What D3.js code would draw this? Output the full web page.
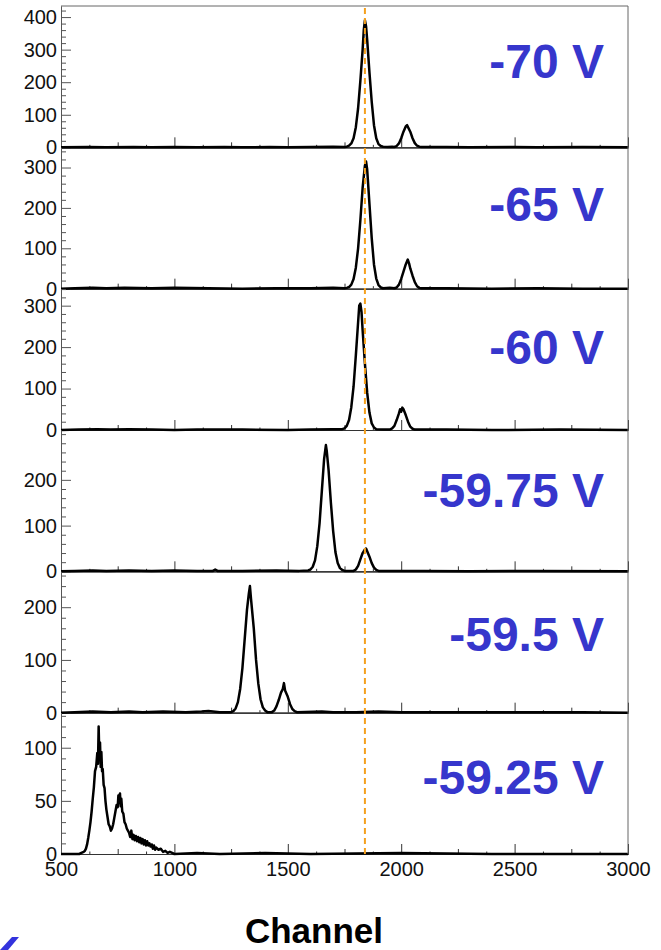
<!DOCTYPE html>
<html>
<head>
<meta charset="utf-8">
<script src="https://cdn.jsdelivr.net/npm/d3@7"></script>
<style>
  body { margin: 0; background: #fff; }
  text { font-family: "Liberation Sans", Arial, sans-serif; }
</style>
</head>
<body>
<svg id="chart" width="661" height="950"></svg>
<script>
// channel / counts (background is ~0 elsewhere)
var spec70 = [[500,0],[620,1],[700,0],[820,1],[900,0],[1000,1],[1100,0],[1220,1],[1300,0],[1420,1],[1500,0],[1600,1],[1700,2],[1750,1],
  [1760,2],[1770,5],[1780,12],[1790,28],[1800,62],[1810,120],[1820,205],[1830,300],[1835,360],[1840,390],[1845,372],[1850,330],
  [1860,230],[1870,140],[1880,68],[1890,28],[1900,10],[1910,4],[1920,2],[1940,1],[1960,2],
  [1970,1],[1980,4],[1990,12],[2000,28],[2010,48],[2020,64],[2026,68],[2030,62],[2040,48],[2050,28],[2060,13],[2070,5],[2080,2],
  [2090,1],[2200,1],[2300,0],[2500,1],[2600,0],[2800,1],[3000,0]];
var spec65 = [[500,0],[560,1],[640,2],[700,1],[780,2],[900,1],[1000,2],[1150,1],[1300,0],[1450,1],[1600,1],[1700,2],[1750,1],
  [1760,2],[1770,4],[1780,10],[1790,24],[1800,52],[1810,100],[1820,170],[1830,250],[1840,305],[1845,315],[1850,295],
  [1860,210],[1870,125],[1880,60],[1890,25],[1900,9],[1910,3],[1920,1],[1950,2],
  [1970,1],[1980,3],[1990,10],[2000,24],[2010,42],[2020,60],[2029,72],[2035,62],[2040,50],[2050,32],[2060,16],[2070,6],[2080,2],
  [2090,1],[2200,1],[2400,0],[2600,1],[2800,0],[3000,0]];
var spec60 = [[500,0],[580,1],[660,2],[720,1],[800,2],[900,1],[1000,0],[1100,1],[1300,1],[1500,0],[1600,1],[1700,2],
  [1740,2],[1750,4],[1760,10],[1770,24],[1780,55],[1790,105],[1800,180],[1810,260],[1815,300],[1820,305],[1825,285],[1830,240],
  [1840,160],[1850,90],[1860,42],[1870,16],[1880,6],[1890,2],[1920,1],
  [1950,1],[1960,4],[1970,10],[1980,24],[1990,40],[1995,50],[2000,44],[2005,54],[2010,50],[2020,36],[2030,20],[2040,8],[2050,3],
  [2060,1],[2200,1],[2400,0],[2700,1],[3000,0]];
var spec5975 = [[500,0],[560,1],[640,2],[700,1],[800,2],[900,1],[1000,2],[1100,1],[1170,1],[1180,4],[1190,1],[1300,1],[1450,2],[1550,1],
  [1590,2],[1600,4],[1610,10],[1620,24],[1630,55],[1640,105],[1650,175],[1660,245],[1668,276],[1672,262],[1680,220],[1690,150],
  [1700,88],[1710,42],[1720,18],[1730,7],[1740,3],[1750,1],
  [1790,1],[1800,4],[1810,12],[1820,26],[1830,40],[1840,48],[1845,50],[1850,44],[1860,32],[1870,18],[1880,8],[1890,3],[1900,1],
  [2100,1],[2300,0],[2600,1],[3000,0]];
var spec595 = [[500,0],[560,1],[640,2],[720,1],[800,2],[860,1],[950,2],[1050,1],[1120,2],[1150,3],[1200,1],
  [1250,1],[1260,3],[1270,8],[1280,20],[1290,45],[1300,85],[1310,140],[1320,195],[1328,225],[1333,240],[1338,215],[1350,160],
  [1360,100],[1370,55],[1380,25],[1390,10],[1400,4],[1410,1],
  [1430,1],[1440,4],[1450,12],[1460,24],[1470,38],[1478,45],[1483,56],[1488,42],[1500,30],[1510,16],[1520,7],[1530,3],[1540,1],
  [1650,2],[1700,1],[1800,1],[1900,2],[2000,1],[2200,1],[2500,1],[2800,1],[3000,0]];
var spec5925 = [[500,0],[580,0],[590,1],[600,2],[605,3],[610,5],[615,9],[620,15],[625,22],[630,30],[635,40],[640,52],[645,63],
  [650,78],[655,82],[660,95],[663,85],[666,120],[669,92],[672,105],[675,82],[678,96],[681,78],[684,80],[688,65],[692,62],
  [696,50],[700,42],[705,35],[710,28],[715,26],[720,22],[725,24],[730,28],[735,34],[740,40],[745,46],[750,44],[753,55],
  [756,48],[760,57],[763,45],[766,52],[770,40],[775,38],[780,30],[785,28],[790,24],[795,22],
  [800,20],[805,16],[810,22],[815,14],[820,18],[825,13],[830,17],[835,12],[840,16],[845,11],[850,15],[855,10],[860,14],
  [865,9],[870,13],[875,8],[880,12],[885,8],[890,10],[895,7],[900,9],[905,5],[910,8],[915,4],[920,6],[930,4],[940,5],
  [950,2],[960,3],[970,1],[980,2],[990,1],[1000,0],[1100,1],[1200,0],[1400,1],[1600,0],[2000,1],[2400,0],[3000,0]];

var voltages = ["-70 V", "-65 V", "-60 V", "-59.75 V", "-59.5 V", "-59.25 V"];
var spectra = [spec70, spec65, spec60, spec5975, spec595, spec5925];
var yMaxes = [434, 350, 341, 309, 268, 133];
var yMajor = [[0,100,200,300,400], [0,100,200,300], [0,100,200,300], [0,100,200], [0,100,200], [0,50,100]];
var yMinorStep = [20, 20, 20, 20, 20, 10];
var xTicks = [500, 1000, 1500, 2000, 2500, 3000];
var refChannel = 1840;

var svg = d3.select("#chart");
var padL = 61, padR = 628, padT = 6, padB = 854;
var panelH = (padB - padT) / spectra.length;
var blue = "#3636cc";

svg.append("rect").attr("width", 661).attr("height", 950).attr("fill", "#fff");

var x = d3.scaleLinear().domain([500, 3000]).range([padL, padR]);

function ticksBetween(step, offset, max) {
  var out = [];
  for (var v = 500 + offset; v <= max; v += step) out.push(v);
  return out;
}

spectra.forEach(function(data, i) {
  var y0 = padT + panelH * (i + 1);
  var y = d3.scaleLinear().domain([0, yMaxes[i]]).range([y0, y0 - panelH]);
  var g = svg.append("g");

  // x ticks: 500 major, 250 secondary, 125 tertiary
  var xa = g.append("g").attr("transform", "translate(0," + y0 + ")");
  xa.append("g").call(d3.axisBottom(x).tickValues(ticksBetween(125, 125, 3000).filter(function(v){ return (v - 500) % 250 != 0; }))
    .tickSize(-2.5).tickSizeOuter(0).tickFormat(""));
  xa.append("g").call(d3.axisBottom(x).tickValues(ticksBetween(500, 250, 3000)).tickSize(-5).tickSizeOuter(0).tickFormat(""));
  var xMain = xa.append("g").call(d3.axisBottom(x).tickValues(xTicks).tickSize(-10).tickSizeOuter(0).tickPadding(8)
    .tickFormat(i == spectra.length - 1 ? d3.format("d") : ""));
  xa.selectAll("path, line").attr("stroke", "#333");
  xMain.selectAll("text").attr("font-size", 20).attr("fill", "#111");

  // y ticks
  var minors = d3.range(0, yMaxes[i] + 0.01, yMinorStep[i]).filter(function(v){ return yMajor[i].indexOf(v) < 0; });
  var ya = g.append("g").attr("transform", "translate(" + padL + ",0)");
  ya.append("g").call(d3.axisLeft(y).tickValues(minors).tickSize(-5).tickSizeOuter(0).tickFormat(""));
  var yMain = ya.append("g").call(d3.axisLeft(y).tickValues(yMajor[i]).tickSize(-10).tickSizeOuter(0).tickPadding(4));
  ya.selectAll("path, line").attr("stroke", "#555");
  yMain.selectAll("text").attr("font-size", 20).attr("fill", "#111");

  var line = d3.line().x(function(d){ return x(d[0]); }).y(function(d){ return y(d[1]); });
  g.append("path").datum(data).attr("d", line)
    .attr("fill", "none").attr("stroke", "#000").attr("stroke-width", 2.5).attr("stroke-linejoin", "round");

  g.append("text").attr("x", 604).attr("y", y0 - panelH + 72 + i * 1.8).attr("text-anchor", "end")
    .attr("font-size", 48).attr("font-weight", "bold").attr("fill", blue).text(voltages[i]);
});

// frame top and right
svg.append("path").attr("d", "M" + padL + "," + padT + "H" + padR + "V" + padB)
  .attr("fill", "none").attr("stroke", "#666").attr("stroke-width", 1);

// reference channel
svg.append("line").attr("x1", x(refChannel)).attr("x2", x(refChannel)).attr("y1", padT + 2).attr("y2", padB + 2)
  .attr("stroke", "#f5a01e").attr("stroke-width", 2).attr("stroke-dasharray", "6,4");

svg.append("text").attr("x", 314).attr("y", 943).attr("text-anchor", "middle")
  .attr("font-size", 35).attr("font-weight", "bold").attr("fill", "#000").text("Channel");

// cut-off arrow corner, bottom left
svg.append("path").attr("d", "M12,937L19,937L8,950L0,950Z").attr("fill", "#3333dd");
</script>
</body>
</html>
